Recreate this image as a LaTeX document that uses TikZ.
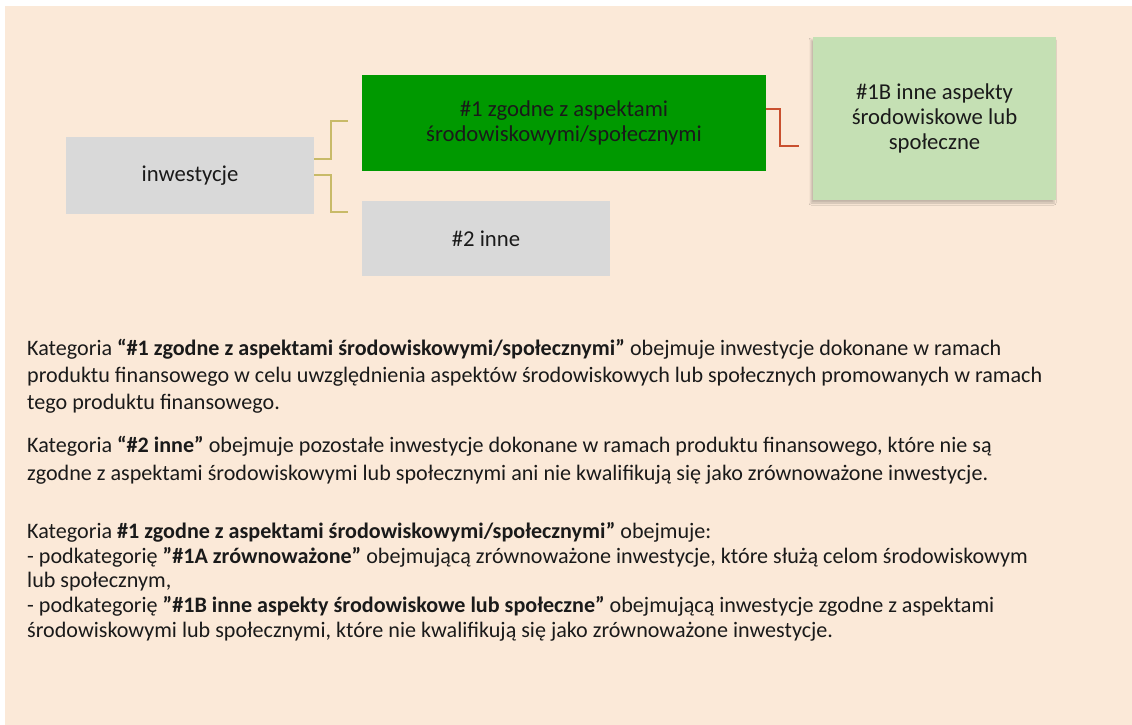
\documentclass[tikz,border=0pt]{standalone}
\usepackage{fontspec}
\setmainfont{Carlito}
\usetikzlibrary{calc,shadows.blur}
\definecolor{peach}{HTML}{FBE9D8}
\definecolor{boxgray}{HTML}{D9D9D9}
\definecolor{darkgreen}{HTML}{009900}
\definecolor{lightgreen}{HTML}{C5E0B4}
\definecolor{olive}{HTML}{C8BA68}
\definecolor{redline}{HTML}{C9502F}
\definecolor{txt}{HTML}{1A1A1A}
\tikzset{
  box/.style={inner sep=0pt, align=center, text=txt,
    font=\fontsize{22.7}{25}\selectfont},
  conn/.style={draw=olive, line width=2pt},
  connred/.style={draw=redline, line width=1.6pt},
  bodyline/.style={anchor=base west, inner sep=0pt, text=txt,
    font=\fontsize{22.1}{27}\selectfont},
}
\begin{document}
\begin{tikzpicture}[x=1pt,y=-1pt]
\useasboundingbox (0,0) rectangle (1132,725);
\fill[white] (0,0) rectangle (1132,725);
\fill[peach] (5,6) rectangle (1132,725);
% boxes
\node[box, fill=boxgray, minimum width=248pt, minimum height=77pt] (inw) at (190,175.5) {inwestycje};
\node[box, fill=darkgreen, minimum width=404pt, minimum height=96pt] (g1) at (564,123) {\#1 zgodne z aspektami\\środowiskowymi/społecznymi};
\node[box, fill=boxgray, minimum width=248pt, minimum height=75pt] (g2) at (486,238.5) {\#2 inne};
\node[box, fill=lightgreen, minimum width=243pt, minimum height=163pt,
  blur shadow={shadow xshift=-2pt, shadow yshift=-3pt, shadow blur radius=2pt, shadow opacity=22}] (g1b) at (934.5,118.5) {\#1B inne aspekty\\środowiskowe lub\\społeczne};
% connectors
\coordinate (e1) at (348,121);
\coordinate (e2) at (348,212);
\coordinate (e3) at (799,146);
\draw[conn] ($(inw.north east)+(0,22)$) -- ++(17,0) |- (e1);
\draw[conn] ($(inw.north east)+(0,38)$) -- ++(17,0) |- (e2);
\draw[connred] ($(g1.north east)+(0,34)$) -- ++(14,0) |- (e3);
% body text
\node[bodyline] (l1) at (27,355) {Kategoria \textbf{“\#1 zgodne z aspektami środowiskowymi/społecznymi”} obejmuje inwestycje dokonane w ramach};
\node[bodyline] (l2) at (27,382) {produktu finansowego w celu uwzględnienia aspektów środowiskowych lub społecznych promowanych w ramach};
\node[bodyline] (l3) at (27,409) {tego produktu finansowego.};
\node[bodyline] (l4) at (27,452) {Kategoria \textbf{“\#2 inne”} obejmuje pozostałe inwestycje dokonane w ramach produktu finansowego, które nie są};
\node[bodyline] (l5) at (27,480) {zgodne z aspektami środowiskowymi lub społecznymi ani nie kwalifikują się jako zrównoważone inwestycje.};
\node[bodyline] (l6) at (27,538) {Kategoria \textbf{\#1 zgodne z aspektami środowiskowymi/społecznymi”} obejmuje:};
\node[bodyline] (l7) at (27,563) {- podkategorię \textbf{”\#1A zrównoważone”} obejmującą zrównoważone inwestycje, które służą celom środowiskowym};
\node[bodyline] (l8) at (27,587) {lub społecznym,};
\node[bodyline] (l9) at (27,612) {- podkategorię \textbf{”\#1B inne aspekty środowiskowe lub społeczne”} obejmującą inwestycje zgodne z aspektami};
\node[bodyline] (l10) at (27,637) {środowiskowymi lub społecznymi, które nie kwalifikują się jako zrównoważone inwestycje.};
\end{tikzpicture}
\end{document}
